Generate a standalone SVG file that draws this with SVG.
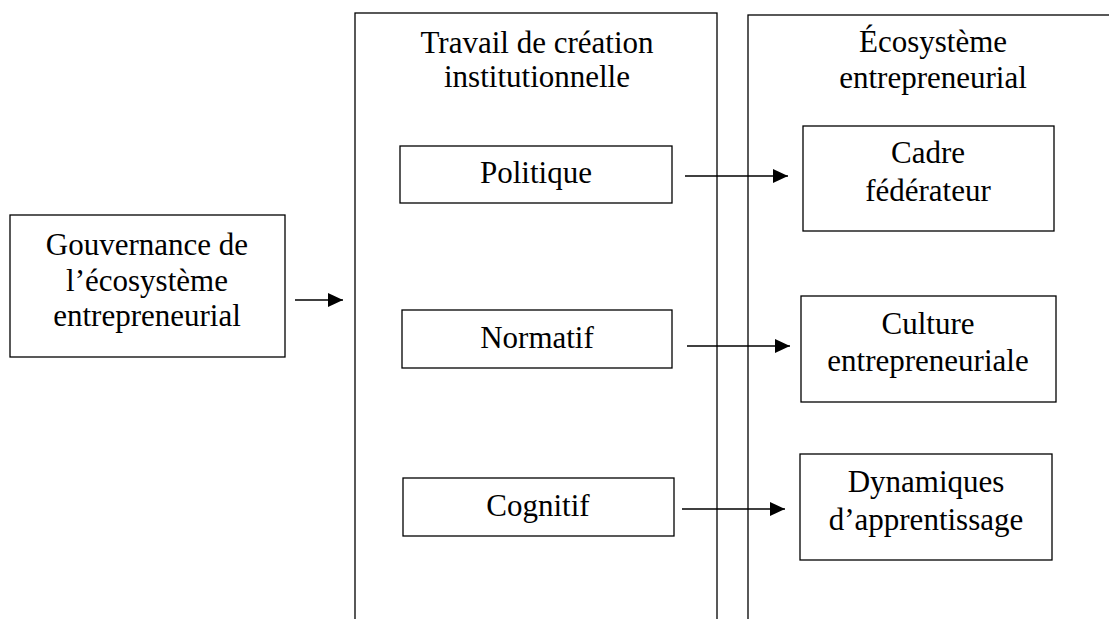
<svg xmlns="http://www.w3.org/2000/svg" width="1109" height="619" viewBox="0 0 1109 619">
<style>
.box{fill:#fff;stroke:#000;stroke-width:1.3}
.t{font-family:"Liberation Serif","Times New Roman",serif;font-size:31px;fill:#000;text-anchor:middle}
.c{stroke:#000;stroke-width:1.3;fill:none}
</style>
<defs>
<marker id="ah" markerUnits="userSpaceOnUse" markerWidth="16" markerHeight="14" refX="15" refY="7" orient="auto">
<path d="M0,0 L15,7 L0,14 Z" fill="#000"/>
</marker>
</defs>
<rect width="1109" height="619" fill="#fff"/>
<g id="travail">
<rect class="box" x="355" y="13" width="362" height="640"/>
<text class="t" x="537" y="53">Travail de création</text>
<text class="t" x="537" y="87">institutionnelle</text>
</g>
<g id="ecosysteme">
<rect class="box" x="748" y="15" width="400" height="640"/>
<text class="t" x="933" y="52">Écosystème</text>
<text class="t" x="933" y="88">entrepreneurial</text>
</g>
<g id="gouvernance">
<rect class="box" x="10" y="215" width="275" height="142"/>
<text class="t" x="147" y="255">Gouvernance de</text>
<text class="t" x="147" y="291">l’écosystème</text>
<text class="t" x="147" y="326">entrepreneurial</text>
</g>
<g id="politique">
<rect class="box" x="400" y="146" width="272" height="57"/>
<text class="t" x="536" y="183">Politique</text>
</g>
<g id="normatif">
<rect class="box" x="402" y="310" width="270" height="58"/>
<text class="t" x="537" y="348">Normatif</text>
</g>
<g id="cognitif">
<rect class="box" x="403" y="478" width="271" height="58"/>
<text class="t" x="538" y="516">Cognitif</text>
</g>
<g id="cadre">
<rect class="box" x="803" y="126" width="251" height="105"/>
<text class="t" x="928" y="163">Cadre</text>
<text class="t" x="928" y="201">fédérateur</text>
</g>
<g id="culture">
<rect class="box" x="801" y="296" width="255" height="106"/>
<text class="t" x="928" y="334">Culture</text>
<text class="t" x="928" y="371">entrepreneuriale</text>
</g>
<g id="dynamiques">
<rect class="box" x="800" y="454" width="252" height="106"/>
<text class="t" x="926" y="492">Dynamiques</text>
<text class="t" x="926" y="530">d’apprentissage</text>
</g>
<g id="connectors">
<line class="c" x1="295" y1="300" x2="343" y2="300" marker-end="url(#ah)"/>
<line class="c" x1="685" y1="176" x2="788" y2="176" marker-end="url(#ah)"/>
<line class="c" x1="687" y1="346" x2="790" y2="346" marker-end="url(#ah)"/>
<line class="c" x1="682" y1="509" x2="785" y2="509" marker-end="url(#ah)"/>
</g>
</svg>
